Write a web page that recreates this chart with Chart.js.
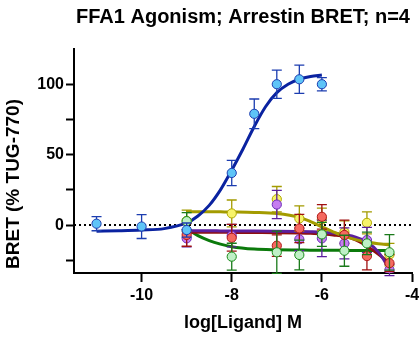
<!DOCTYPE html>
<html>
<head>
<meta charset="utf-8">
<script src="https://cdn.jsdelivr.net/npm/chart.js@4"></script>
<style>
  body { margin: 0; background: #fff; }
  #wrap { width: 420px; height: 338px; }
</style>
</head>
<body>
<div id="wrap"><canvas id="bret-chart"></canvas></div>
<script>
// measured points (log M)
const blueX = [-11, -10, -9, -8, -7.5, -7, -6.5, -6];
const blueY = [1, -1, -3.5, 37, 79, 100, 103.5, 100];
const blueErr = [5, 8.5, 5, 9, 10.5, 10, 10, 4.7];

const doseX = [-9, -8, -7, -6.5, -6, -5.5, -5, -4.5];
const yellowY = [3, 8.3, 18.4, 4.7, 4, -5, 1.6, -21];
const yellowErr = [7.6, 9.5, 9, 9, 8, 8, 7.8, 8];
const purpleY = [-9.4, -7.5, 14.6, -10.1, -9.4, -13, -10.6, -31.8];
const purpleErr = [6, 8, 10, 8, 13, 11, 9, 4];
const redY = [-7, -9, -14.6, -2.4, 5.9, -7, -22, -27];
const redErr = [8, 9.5, 7.6, 10, 8.7, 10.5, 9.8, 6];
const greenY = [2.8, -22.4, -19.3, -21.2, -6.6, -18.2, -13, -19.3];
const greenErr = [6, 9.5, 15, 10.6, 8.5, 11, 8, 12.6];

// fitted curves
const blueCurveX = [-11, -10.5, -10, -9.5, -9, -8.75, -8.5, -8.25, -8, -7.75, -7.5, -7.25, -7, -6.75, -6.5, -6.25, -6];
const blueCurveY = [-4.3, -4, -3.5, -2.5, 1.5, 6.5, 14, 25, 39, 54, 70, 84, 94, 100, 103.5, 105.5, 106.5];
const curveX = [-9, -8.75, -8.5, -8.25, -8, -7.5, -7, -6.5, -6.25, -6, -5.75, -5.5, -5.25, -5, -4.75, -4.5];
const yellowCurveY = [9.5, 9.5, 9.5, 9.4, 9.3, 9, 8.2, 5.5, 2.5, -1.2, -4.8, -8, -10.3, -12, -13.2, -14];
const redCurveY = [-5, -5, -5.1, -5.1, -5.2, -5.3, -5.4, -5.6, -5.8, -6.2, -7, -8, -10.5, -15, -20.5, -27];
const purpleCurveY = [-4, -4, -4, -4.1, -4.2, -4.2, -4.3, -4.5, -4.7, -5, -5.6, -6.8, -8.5, -12, -19, -31];
const greenCurveY = [-2.5, -7.5, -11, -13.5, -15.3, -17, -17.5, -17.7, -17.8, -17.8, -17.9, -17.9, -18, -18, -18, -18];

const xTicks = [-10, -8, -6, -4];
const yTicks = [-25, 0, 25, 50, 75, 100];
const yLabelled = [0, 50, 100];
const zeroLineX = [-11.5, -4];

//-------------------------------------------------//

const FONT = 'Arial, "Liberation Sans"';
const pts = (xs, ys) => xs.map((x, i) => ({ x: x, y: ys[i] }));

function curve(xs, ys, color, order) {
    return {
        type: 'line', data: pts(xs, ys), borderColor: color, borderWidth: 3,
        pointRadius: 0, cubicInterpolationMode: 'monotone', fill: false, order: order
    };
}

function points(xs, ys, errs, fillC, edgeC, barC, order) {
    return {
        type: 'scatter', data: pts(xs, ys), errs: errs, barColor: barC,
        backgroundColor: fillC, borderColor: edgeC, borderWidth: 1,
        pointRadius: 4.6, showLine: false, order: order
    };
}

// error bars drawn just before each point set
const errorBars = {
    id: 'errorBars',
    beforeDatasetDraw(chart, args) {
        const ds = chart.data.datasets[args.index];
        if (!ds.errs) return;
        const c = chart.ctx, ys = chart.scales.y;
        c.save();
        c.strokeStyle = ds.barColor;
        c.lineWidth = 1.3;
        args.meta.data.forEach((p, i) => {
            const v = ds.data[i].y, e = ds.errs[i];
            const top = ys.getPixelForValue(v + e), bot = ys.getPixelForValue(v - e);
            c.beginPath();
            c.moveTo(p.x, top); c.lineTo(p.x, bot);
            c.moveTo(p.x - 5, top); c.lineTo(p.x + 5, top);
            c.moveTo(p.x - 5, bot); c.lineTo(p.x + 5, bot);
            c.stroke();
        });
        c.restore();
    }
};

// y axis title sits a little below the axis centre in the original
const yTitle = {
    id: 'yTitle',
    afterDraw(chart) {
        const c = chart.ctx;
        c.save();
        c.translate(14, 184);
        c.rotate(-Math.PI / 2);
        c.font = 'bold 19px ' + FONT;
        c.fillStyle = '#000';
        c.textAlign = 'center';
        c.textBaseline = 'middle';
        c.fillText('BRET (% TUG-770)', 0, 0);
        c.restore();
    }
};

const ctx = document.getElementById('bret-chart').getContext('2d');
const chart = new Chart(ctx, {
    type: 'scatter',
    data: {
        datasets: [
            {
                type: 'line', data: pts(zeroLineX, [0, 0]), borderColor: '#000', borderWidth: 2,
                borderDash: [2, 3], pointRadius: 0, order: 20
            },
            curve(blueCurveX, blueCurveY, '#0a22a0', 11),
            curve(curveX, yellowCurveY, '#a39b00', 12),
            curve(curveX, purpleCurveY, '#5b1f9e', 13),
            curve(curveX, redCurveY, '#8f0f0f', 14),
            curve(curveX, greenCurveY, '#0b7a0b', 15),
            points(doseX, yellowY, yellowErr, '#f7f36a', '#b0a800', '#a39b00', 5),
            points(doseX, purpleY, purpleErr, '#c57df0', '#6a2ab8', '#5b1f9e', 4),
            points(doseX, redY, redErr, '#f56a60', '#b01818', '#a01010', 3),
            points(doseX, greenY, greenErr, '#bff0c6', '#1a8a1a', '#1a7a1a', 2),
            points(blueX, blueY, blueErr, '#5ec4f7', '#1c3db0', '#1c3db0', 1)
        ]
    },
    plugins: [errorBars, yTitle],
    options: {
        responsive: true,
        maintainAspectRatio: false,
        animation: false,
        layout: { padding: { top: 0, right: 8, bottom: 0, left: 0 } },
        plugins: {
            legend: { display: false },
            tooltip: { enabled: false },
            title: {
                display: true, fullSize: false,
                text: 'FFA1 Agonism; Arrestin BRET; n=4',
                color: '#000',
                font: { family: FONT, size: 20, weight: 'bold' },
                padding: { top: 5, bottom: 20 }
            }
        },
        scales: {
            x: {
                type: 'linear', min: -11.5, max: -4,
                afterBuildTicks: s => { s.ticks = xTicks.map(v => ({ value: v })); },
                afterFit: s => { s.height = 65; s.paddingLeft = 0; s.paddingRight = 0; },
                grid: { drawOnChartArea: false, drawTicks: true, tickLength: 9, tickColor: '#000', tickWidth: 2 },
                border: { color: '#000', width: 2 },
                ticks: {
                    color: '#000', padding: 4,
                    font: { family: FONT, size: 16, weight: 'bold' }
                },
                title: {
                    display: true, text: 'log[Ligand] M', color: '#000',
                    font: { family: FONT, size: 18, weight: 'bold' },
                    padding: { top: 9 }
                }
            },
            y: {
                type: 'linear', min: -34, max: 125,
                afterBuildTicks: s => { s.ticks = yTicks.map(v => ({ value: v })); },
                afterFit: s => { s.width = 74; s.paddingTop = 0; s.paddingBottom = 0; },
                grid: { drawOnChartArea: false, drawTicks: true, tickLength: 8, tickColor: '#000', tickWidth: 2 },
                border: { color: '#000', width: 2 },
                ticks: {
                    color: '#000', padding: 2,
                    font: { family: FONT, size: 16, weight: 'bold' },
                    callback: v => yLabelled.includes(v) ? String(v) : ''
                }
            }
        }
    }
});
</script>
</body>
</html>
